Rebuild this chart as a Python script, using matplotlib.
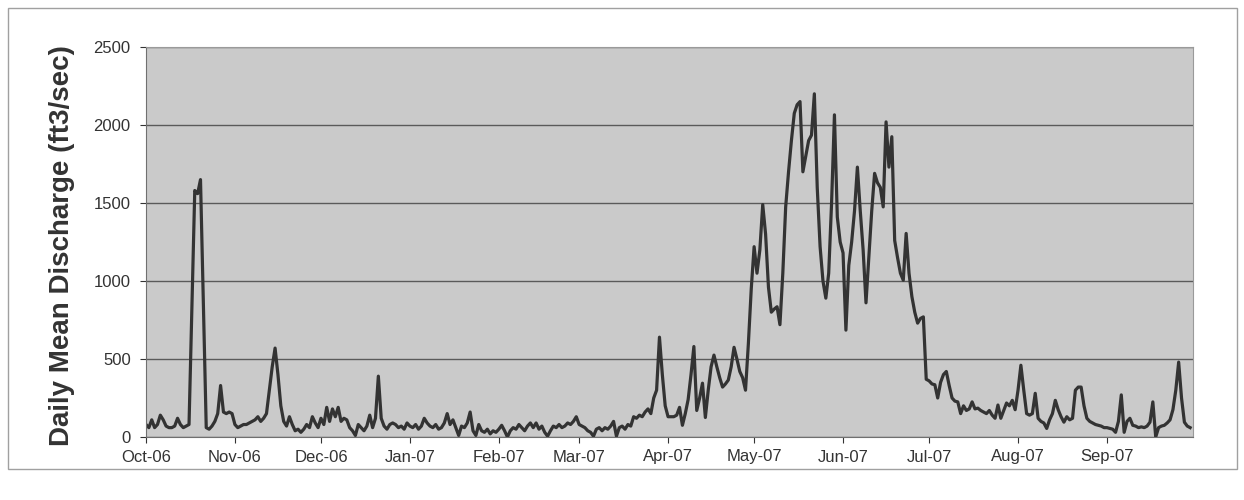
import numpy as np
import pandas as pd
import matplotlib
matplotlib.use("Agg")
import matplotlib.pyplot as plt
import matplotlib.dates as mdates
from matplotlib.patches import Rectangle

# daily mean discharge (ft3/sec), one list per month
oct_06 = [80, 60, 110, 60, 80, 140, 110, 70, 60, 60, 70, 120, 80, 60, 70, 80,
          830, 1580, 1560, 1650, 850, 60, 50, 70, 100, 150, 330, 160, 150, 160, 150]
nov_06 = [80, 60, 70, 80, 80, 90, 100, 110, 130, 100, 120, 150, 300, 450, 570,
          400, 200, 100, 70, 130, 80, 40, 50, 30, 50, 80, 60, 130, 90, 60]
dec_06 = [120, 80, 190, 100, 180, 130, 190, 100, 120, 110, 60, 40, 10, 80, 60,
          40, 70, 140, 60, 120, 390, 120, 70, 50, 80, 90, 80, 60, 70, 50, 90]
jan_07 = [70, 60, 80, 50, 70, 120, 90, 70, 60, 80, 50, 60, 90, 150, 80, 110,
          60, 10, 70, 60, 90, 160, 40, 10, 80, 40, 30, 50, 20, 40, 30]
feb_07 = [50, 75, 40, 0, 40, 60, 50, 80, 60, 40, 70, 90, 60, 90, 50, 70, 30, 5,
          40, 70, 60, 80, 60, 70, 90, 80, 100, 130]
mar_07 = [80, 70, 60, 40, 30, 5, 50, 60, 40, 60, 50, 70, 100, 5, 60, 70, 50, 80,
          70, 130, 120, 140, 130, 160, 180, 150, 250, 300, 640, 400, 200]
apr_07 = [130, 130, 130, 140, 190, 75, 150, 240, 400, 580, 170, 250, 345, 125,
          300, 450, 525, 450, 380, 320, 340, 365, 450, 575, 500, 420, 380, 300, 600, 950]
may_07 = [1220, 1050, 1200, 1490, 1300, 960, 800, 820, 835, 720, 1050, 1475,
          1700, 1900, 2075, 2130, 2150, 1700, 1800, 1900, 1935, 2200, 1600, 1220,
          1000, 890, 1050, 1500, 2065, 1410, 1250]
jun_07 = [1180, 685, 1100, 1250, 1450, 1730, 1450, 1200, 860, 1150, 1450, 1690,
          1630, 1600, 1475, 2020, 1730, 1925, 1260, 1150, 1050, 1005, 1305, 1050,
          900, 800, 730, 760, 770, 370]
jul_07 = [360, 340, 335, 250, 350, 400, 420, 330, 250, 230, 225, 150, 200, 170,
          180, 225, 180, 185, 170, 160, 150, 170, 140, 120, 205, 120, 170, 218, 200, 235, 175]
aug_07 = [300, 460, 300, 150, 140, 150, 280, 120, 100, 90, 55, 110, 150, 235,
          175, 130, 95, 130, 110, 120, 300, 320, 320, 200, 120, 100, 90, 80, 75, 70, 60]
sep_07 = [60, 55, 50, 30, 100, 270, 30, 100, 120, 75, 70, 60, 65, 60, 70, 95,
          225, 0, 60, 70, 75, 90, 110, 175, 300, 480, 250, 95, 70, 60]

months = [oct_06, nov_06, dec_06, jan_07, feb_07, mar_07,
          apr_07, may_07, jun_07, jul_07, aug_07, sep_07]
discharge = np.concatenate(months)
dates = pd.date_range("2006-10-01", periods=len(discharge), freq="D")
month_starts = pd.date_range("2006-10-01", periods=len(months), freq="MS")

plt.rcParams['font.family'] = ['Liberation Sans', 'DejaVu Sans']

fig = plt.figure(figsize=(12.44, 5), dpi=100)
fig.patch.set_facecolor('white')
ax = fig.add_axes([146/1244, 1 - 437/500, (1193 - 146)/1244, (437 - 47)/500])

# outer chart frame
fig.patches.append(Rectangle((8/1244, 1 - 469/500), 1229/1244, 461/500,
                             transform=fig.transFigure, fill=False,
                             edgecolor='#a0a0a0', linewidth=1))

ax.set_facecolor('#cacaca')
ax.plot(dates, discharge, color='#333333', linewidth=2.3)

ax.set_ylim(0, 2500)
ax.set_yticks(range(0, 2501, 500))
ax.set_xlim(pd.Timestamp("2006-10-01"), pd.Timestamp("2007-10-01"))
ax.set_xticks(month_starts)
ax.xaxis.set_major_formatter(mdates.DateFormatter('%b-%y'))

ax.yaxis.grid(True, color='#5a5a5a', linewidth=1)
ax.set_axisbelow(True)
for side in ['top', 'right']:
    ax.spines[side].set_color('#9a9a9a')
for side in ['left', 'bottom']:
    ax.spines[side].set_color('#707070')

ax.tick_params(axis='both', labelsize=12, colors='#333333', length=4, width=0.8)
ax.tick_params(axis='y', pad=7)
ax.tick_params(axis='x', pad=5)

ax.set_ylabel('Daily Mean Discharge (ft3/sec)', fontsize=20, fontweight='bold',
              color='#333333')
ax.yaxis.set_label_coords(-0.068, 0.49)

fig.savefig('out.png', dpi=100)
